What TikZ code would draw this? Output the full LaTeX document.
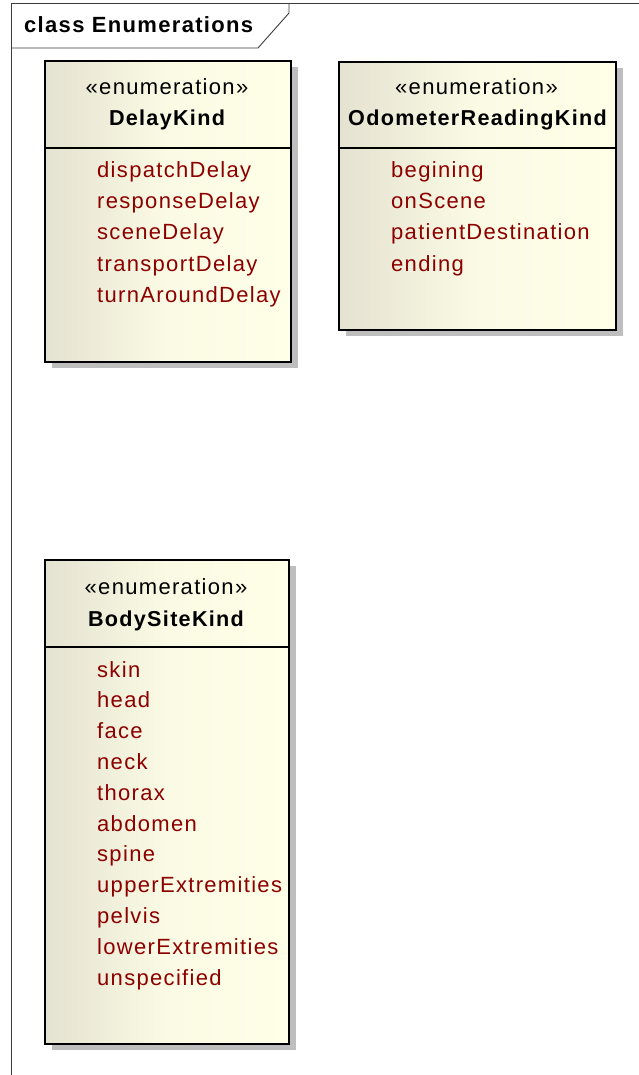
\documentclass[tikz,border=0pt]{standalone}
\usepackage{fontspec}
\setmainfont{Liberation Sans}[LetterSpace=6]
\usetikzlibrary{shadows}
\definecolor{attrc}{RGB}{140,0,0}
\definecolor{fillL}{RGB}{228,226,208}
\definecolor{fillR}{RGB}{255,255,232}
\definecolor{shadowc}{RGB}{190,190,190}
\definecolor{framec}{RGB}{60,60,60}
\tikzset{
  enumbox/.style={draw=black, line width=1.7pt, left color=fillL, right color=fillR, middle color=fillR!85!fillL,
    drop shadow={shadow xshift=7pt, shadow yshift=-6pt, fill=shadowc, opacity=1},
    inner sep=0pt, anchor=north west},
  divider/.style={draw=black, line width=1.5pt},
  stereo/.style={anchor=base, inner sep=0pt, font=\fontsize{22}{26}\selectfont},
  cname/.style={anchor=base, inner sep=0pt, font=\fontsize{21.6}{26}\selectfont\bfseries},
  attr/.style={anchor=base west, inner sep=0pt, text=attrc, font=\fontsize{22}{26}\selectfont},
  framel/.style={draw=framec, line width=0.9pt},
  titlet/.style={anchor=base west, inner sep=0pt, font=\fontsize{22}{26}\selectfont\bfseries}
}
\begin{document}
\begin{tikzpicture}[x=1pt,y=-1pt]
\useasboundingbox (0,0) rectangle (639,1075);
% frame
\draw[framel] (11,1075) -- (11,3) -- (639,3);
\draw[framel] (11,48) -- (258,48) -- (289,13) -- (289,3);
\node[titlet] (title) at (24,33) {class Enumerations};

% DelayKind
\node[enumbox, minimum width=246pt, minimum height=301pt] (dk) at (44,60) {};
\coordinate (dkd) at (0,148);
\draw[divider] (dk.west |- dkd) -- (dk.east |- dkd);
\node[stereo] (dks) at (167,95) {«enumeration»};
\node[cname] (dkn) at (167,126) {DelayKind};
\foreach \t [count=\i] in {dispatchDelay,responseDelay,sceneDelay,transportDelay,turnAroundDelay}
  \node[attr] (dk\i) at (97,{178+31*(\i-1)}) {\t};

% OdometerReadingKind
\node[enumbox, minimum width=277pt, minimum height=268pt] (od) at (338,61) {};
\coordinate (odd) at (0,148);
\draw[divider] (od.west |- odd) -- (od.east |- odd);
\node[stereo] (ods) at (476.5,95) {«enumeration»};
\node[cname] (odn) at (477.5,126) {OdometerReadingKind};
\foreach \t [count=\i] in {begining,onScene,patientDestination,ending}
  \node[attr] (od\i) at (391,{178+31*(\i-1)}) {\t};

% BodySiteKind
\node[enumbox, minimum width=244pt, minimum height=484pt] (bs) at (44,559) {};
\coordinate (bsd) at (0,647);
\draw[divider] (bs.west |- bsd) -- (bs.east |- bsd);
\node[stereo] (bss) at (166,594) {«enumeration»};
\node[cname] (bsn) at (166,626) {BodySiteKind};
\foreach \t [count=\i] in {skin,head,face,neck,thorax,abdomen,spine,upperExtremities,pelvis,lowerExtremities,unspecified}
  \node[attr] (bs\i) at (97,{677+30.8*(\i-1)}) {\t};
\end{tikzpicture}
\end{document}
